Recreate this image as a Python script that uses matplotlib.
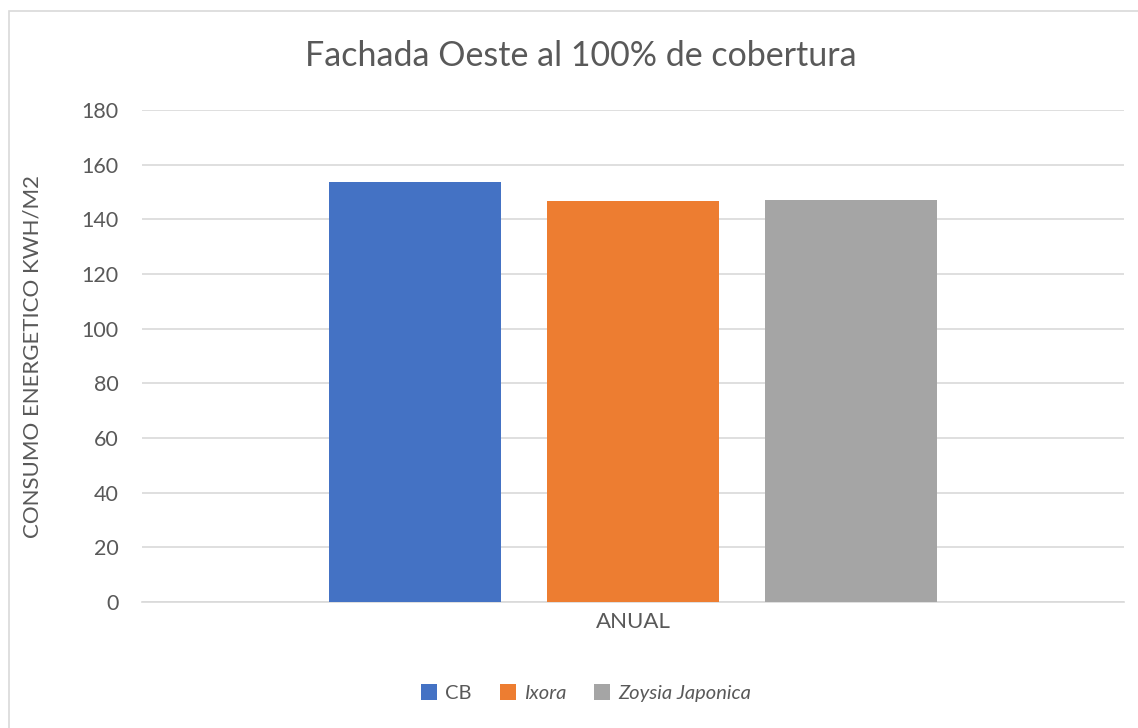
import matplotlib.pyplot as plt
from matplotlib.patches import Rectangle, Patch

# datos
categorias = ['ANUAL']
series = ['CB', 'Ixora', 'Zoysia Japonica']
valores = [153.6, 146.7, 147.1]
colores = ['#4472C4', '#ED7D31', '#A5A5A5']
yticks = [0, 20, 40, 60, 80, 100, 120, 140, 160, 180]

plt.rcParams['font.family'] = ['Lato', 'DejaVu Sans']
gris_texto = '#595959'

fig = plt.figure(figsize=(11.38, 7.28), dpi=100)
ax = fig.add_axes([142 / 1138, 1 - 602 / 728, (1124 - 142) / 1138, (602 - 110) / 728])

# borde del area del grafico (solo se ve arriba e izquierda)
fig.patches.append(Rectangle((9 / 1138, -0.1), 1.2, 1 - 11 / 728 + 0.1,
                             transform=fig.transFigure, fill=False,
                             edgecolor='#D9D9D9', linewidth=1.2))

ancho = 0.175
paso = 0.222
for i, (nombre, v, c) in enumerate(zip(series, valores, colores)):
    ax.bar((i - 1) * paso, v, width=ancho, color=c, label=nombre, zorder=3)

ax.set_xlim(-0.5, 0.5)
ax.set_ylim(0, 180)
ax.set_yticks(yticks)
ax.set_xticks([0])
ax.set_xticklabels(categorias)
ax.tick_params(axis='y', length=0, labelsize=15.5, colors=gris_texto, pad=17)
ax.tick_params(axis='x', length=0, labelsize=16, colors=gris_texto, pad=7)
ax.grid(axis='y', color='#D9D9D9', linewidth=1.2, zorder=0)
for s in ['top', 'right', 'left']:
    ax.spines[s].set_visible(False)
ax.spines['bottom'].set_color('#D9D9D9')
ax.spines['bottom'].set_linewidth(1.2)

# titulo del eje y como texto de figura para ubicarlo igual que el original
fig.text(33 / 1138, 1 - 356 / 728, 'CONSUMO ENERGETICO KWH/M2', fontsize=16,
         color=gris_texto, rotation=90, ha='center', va='center')
fig.text(581 / 1138, 1 - 56 / 728, 'Fachada Oeste al 100% de cobertura',
         fontsize=24.5, color=gris_texto, ha='center', va='center')

handles = [Patch(facecolor=c) for c in colores]
leg = fig.legend(handles, series, loc='center', bbox_to_anchor=(586 / 1138, 1 - 693 / 728),
                 ncol=3, frameon=False, fontsize=14.5, handlelength=0.8, handleheight=0.8,
                 handletextpad=0.4, columnspacing=1.4, labelcolor=gris_texto)
for t in leg.get_texts()[1:]:
    t.set_style('italic')

fig.savefig('out.png', dpi=100)
